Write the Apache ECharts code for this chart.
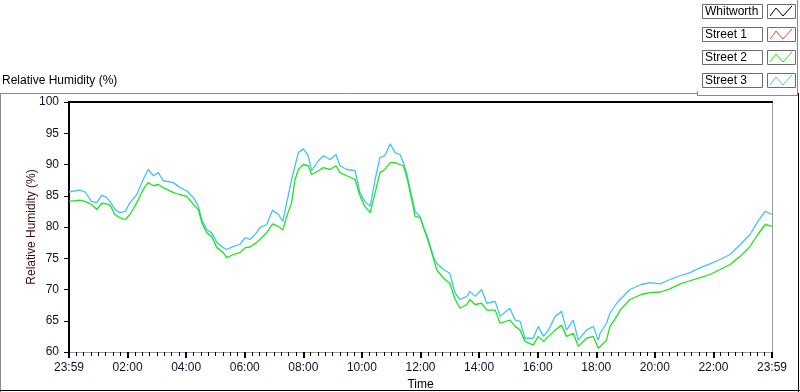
<!DOCTYPE html>
<html>
<head>
<meta charset="utf-8">
<title>Relative Humidity</title>
<script src="https://cdn.jsdelivr.net/npm/echarts@6/dist/echarts.min.js"></script>
<style>
  html, body { margin: 0; padding: 0; background: #fff; }
  #box { width: 800px; height: 392px; }
</style>
</head>
<body>
<div id="box"></div>
<script>
// minutes since 23:59 (start of the log)
var times = [0, 22, 33, 46, 57, 67, 77, 84, 94, 104, 115, 125, 139, 152, 162, 173, 183, 193, 214, 227,
  241, 255, 265, 272, 282, 292, 303, 316, 323, 337, 350, 361, 371, 384, 391, 405, 417, 429, 438, 446,
  456, 463, 470, 480, 490, 497, 511, 521, 535, 547, 555, 569, 586, 596, 606, 617, 627, 637, 647, 658,
  668, 678, 685, 692, 702, 709, 719, 726, 736, 746, 753, 767, 780, 791, 801, 815, 821, 832, 845, 856,
  873, 883, 903, 914, 924, 934, 951, 961, 972, 982, 996, 1009, 1019, 1033, 1043, 1060, 1074, 1084, 1088, 1101,
  1108, 1122, 1129, 1149, 1172, 1190, 1211, 1231, 1252, 1272, 1293, 1313, 1334, 1354, 1375, 1395, 1411, 1426, 1440];

var street3 = [85.6, 85.9, 85.6, 84.1, 83.9, 85.1, 84.7, 84.1, 82.8, 82.3, 82.5, 83.9, 85.2, 87.6, 89.2, 88.2, 88.7, 87.4, 87.1, 86.3,
  85.8, 84.7, 83.3, 81.2, 79.6, 79.1, 77.5, 76.7, 76.4, 76.9, 77.2, 78.3, 78.0, 79.1, 79.9, 80.4, 82.7, 82.0, 80.9, 83.9,
  87.6, 89.8, 91.9, 92.5, 91.4, 89.0, 90.6, 91.4, 90.8, 91.6, 89.8, 89.2, 89.0, 85.5, 84.1, 83.3, 87.6, 91.1, 91.4, 93.3,
  91.9, 91.6, 90.3, 88.5, 84.9, 82.5, 81.7, 80.1, 78.0, 75.3, 74.2, 73.2, 72.6, 69.4, 68.4, 68.9, 69.7, 68.9, 70.0, 67.8,
  68.1, 65.7, 67.0, 65.1, 64.9, 62.2, 62.2, 64.1, 62.5, 63.5, 65.7, 66.5, 63.5, 65.1, 61.9, 63.5, 64.1, 61.9, 63.0, 64.6,
  66.2, 67.8, 68.4, 70.0, 70.8, 71.1, 70.9, 71.6, 72.2, 72.7, 73.5, 74.1, 74.8, 75.6, 77.2, 78.8, 80.9, 82.5, 82.0];

var street2 = [84.1, 84.3, 84.1, 83.6, 82.8, 83.8, 83.7, 83.5, 82.0, 81.5, 81.2, 82.0, 83.9, 86.0, 87.1, 86.6, 86.8, 86.3, 85.5, 85.2,
  84.9, 83.6, 82.8, 80.7, 79.1, 78.5, 76.7, 75.9, 75.1, 75.6, 75.9, 76.7, 76.8, 77.5, 78.0, 79.1, 80.5, 80.1, 79.5, 81.7,
  83.9, 87.6, 89.2, 90.0, 89.8, 88.4, 89.0, 89.5, 89.2, 89.8, 88.7, 88.2, 87.6, 85.0, 83.3, 82.3, 85.5, 88.7, 89.2, 90.3,
  90.3, 90.0, 89.8, 88.0, 84.4, 81.7, 81.5, 79.9, 77.7, 75.1, 73.2, 71.8, 71.0, 68.4, 67.0, 67.6, 68.4, 67.6, 67.8, 66.7,
  66.7, 64.6, 65.1, 64.1, 63.5, 61.7, 61.1, 62.5, 61.7, 62.5, 63.5, 64.3, 62.5, 63.0, 60.9, 62.2, 62.5, 60.6, 60.6, 61.9,
  64.1, 65.7, 66.7, 68.4, 69.2, 69.5, 69.6, 70.1, 70.9, 71.4, 71.9, 72.4, 73.2, 74.0, 75.3, 76.9, 78.8, 80.4, 80.1];

var seriesNames = ['Whitworth', 'Street 1', 'Street 2', 'Street 3'];
var seriesColors = ['#000000', '#ff3b3b', '#1fe41f', '#45c2f5'];
var seriesValues = [[], [], street2, street3];

var font = 'Liberation Sans, Arial, sans-serif';

function pad(n) { return (n < 10 ? '0' : '') + n; }
function timeLabel(v) {
  if (v === 0 || v === 1440) return '23:59';
  return pad(Math.round(v / 60)) + ':00';
}

var series = seriesNames.map(function (name, i) {
  return {
    name: name,
    type: 'line',
    showSymbol: false,
    symbol: 'none',
    animation: false,
    lineStyle: { color: seriesColors[i], width: 1.3 },
    itemStyle: { color: seriesColors[i] },
    data: seriesValues[i].map(function (v, k) { return [times[k], v]; })
  };
});
series[3].z = 2;
series[2].z = 3;

// legend panel (LabVIEW style boxes)
var legendItems = [];
seriesNames.forEach(function (name, i) {
  var top = 4 + i * 23;
  legendItems.push({
    type: 'rect', shape: { x: 702.5, y: top + 0.5, width: 60, height: 14 },
    style: { fill: '#fff', stroke: '#6d6d6d', lineWidth: 1 }
  });
  legendItems.push({
    type: 'text', x: 705, y: top + 8,
    style: { text: name, font: '12px ' + font, fill: '#000', verticalAlign: 'middle' }
  });
  legendItems.push({
    type: 'rect', shape: { x: 767.5, y: top + 0.5, width: 28, height: 14 },
    style: { fill: '#fff', stroke: '#6d6d6d', lineWidth: 1 }
  });
  legendItems.push({
    type: 'polyline',
    shape: { points: [[770, top + 12], [776, top + 4], [783, top + 12], [792, top + 2]] },
    style: { stroke: seriesColors[i], lineWidth: 1, fill: null }
  });
});

var frame = [
  { type: 'line', shape: { x1: 0, y1: 93.5, x2: 697, y2: 93.5 }, style: { stroke: '#8a8a8a', lineWidth: 1 } },
  { type: 'line', shape: { x1: 697.5, y1: 91, x2: 697.5, y2: 96 }, style: { stroke: '#8a8a8a', lineWidth: 1 } },
  { type: 'line', shape: { x1: 697, y1: 95.5, x2: 798, y2: 95.5 }, style: { stroke: '#8a8a8a', lineWidth: 1 } },
  { type: 'line', shape: { x1: 797.5, y1: 0, x2: 797.5, y2: 96 }, style: { stroke: '#8a8a8a', lineWidth: 1 } },
  { type: 'line', shape: { x1: 0.5, y1: 93, x2: 0.5, y2: 392 }, style: { stroke: '#8a8a8a', lineWidth: 1 } },
  { type: 'line', shape: { x1: 0, y1: 390.5, x2: 800, y2: 390.5 }, style: { stroke: '#000', lineWidth: 1 } },
  { type: 'line', shape: { x1: 798.5, y1: 93, x2: 798.5, y2: 392 }, style: { stroke: '#000', lineWidth: 1 } }
];

var myChart = echarts.init(document.getElementById('box'));
var option = {
  backgroundColor: '#fff',
  animation: false,
  textStyle: { fontFamily: font },
  title: {
    text: 'Relative Humidity (%)',
    left: 2, top: 75, padding: 0,
    textStyle: { fontSize: 12, fontWeight: 'normal', color: '#000', fontFamily: font }
  },
  grid: { left: 69, right: 28, top: 102, bottom: 40, containLabel: false, outerBoundsMode: 'none' },
  xAxis: [{
    type: 'value', min: 0, max: 1440, interval: 120, position: 'bottom',
    name: 'Time', nameLocation: 'middle', nameGap: 27, nameMoveOverlap: false,
    nameTextStyle: { fontSize: 12, color: '#000' },
    axisLine: { show: true, onZero: false, lineStyle: { color: '#999', width: 1 } },
    axisTick: { show: true, length: 6, lineStyle: { color: '#000', width: 2 } },
    minorTick: { show: true, splitNumber: 8, length: 4, lineStyle: { color: '#000', width: 1 } },
    axisLabel: { fontSize: 12, color: '#10102a', margin: 10, showMinLabel: true, showMaxLabel: true, formatter: timeLabel },
    splitLine: { show: false }
  }, {
    type: 'value', min: 0, max: 1440, position: 'top',
    axisLine: { show: true, onZero: false, lineStyle: { color: '#000', width: 2 } },
    axisTick: { show: false }, axisLabel: { show: false }, splitLine: { show: false }
  }],
  yAxis: [{
    type: 'value', min: 60, max: 100, interval: 5, position: 'left',
    name: 'Relative Humidity (%)', nameLocation: 'middle', nameGap: 31, nameMoveOverlap: false,
    nameTextStyle: { fontSize: 12, color: '#3a0a0a' },
    axisLine: { show: true, onZero: false, lineStyle: { color: '#000', width: 2 } },
    axisTick: { show: true, length: 5, lineStyle: { color: '#000', width: 1 } },
    axisLabel: { fontSize: 12, color: '#10102a', margin: 10 },
    splitLine: { show: false }
  }, {
    type: 'value', min: 60, max: 100, position: 'right',
    axisLine: { show: true, onZero: false, lineStyle: { color: '#999', width: 1 } },
    axisTick: { show: false }, axisLabel: { show: false }, splitLine: { show: false }
  }],
  graphic: frame.concat(legendItems),
  series: series
};
myChart.setOption(option);
</script>
</body>
</html>
